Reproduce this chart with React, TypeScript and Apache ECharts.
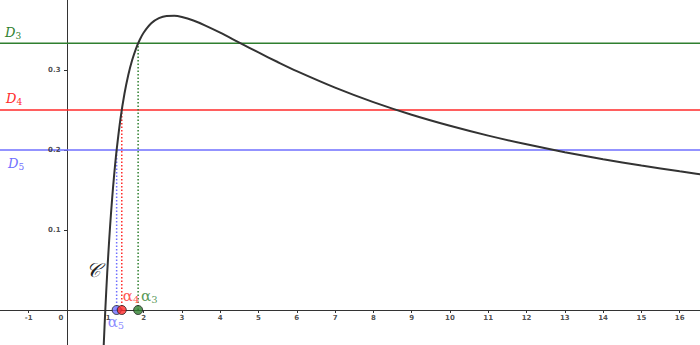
import React, { useEffect, useRef } from "react";
import * as echarts from "echarts";

// Curve C
const curveX = [0.93, 0.96, 1, 1.05, 1.1, 1.15, 1.2, 1.25, 1.3, 1.4, 1.5, 1.6, 1.7, 1.8, 1.9, 2, 2.2, 2.4, 2.6, 2.8, 3, 3.3, 3.6, 4, 4.5, 5, 5.5, 6, 7, 8, 9, 10, 11, 12, 13, 14, 15, 16, 17];
const curveY = [-0.078, -0.0425, 0, 0.0465, 0.0866, 0.1215, 0.152, 0.1785, 0.2018, 0.2403, 0.2703, 0.2938, 0.3121, 0.3265, 0.3378, 0.3466, 0.3584, 0.3648, 0.3675, 0.3677, 0.3662, 0.3618, 0.3558, 0.3466, 0.3342, 0.3219, 0.31, 0.2986, 0.278, 0.2599, 0.2441, 0.2303, 0.218, 0.2071, 0.1973, 0.1885, 0.1805, 0.1733, 0.1667];

// Horizontal lines D3, D4, D5
const lineNames = ["3", "4", "5"];
const lineLevels = [0.3333, 0.25, 0.2];
const lineColors = ["#2f7f2f", "#ff2a2a", "#6f6fff"];
// Intersection abscissas alpha3, alpha4, alpha5
const alphaX = [1.857, 1.43, 1.296];

const xTicks = [-1, 0, 1, 2, 3, 4, 5, 6, 7, 8, 9, 10, 11, 12, 13, 14, 15, 16];
const yTicks = [0.1, 0.2, 0.3];

const X_MIN = -1.75;
const X_MAX = 16.53;
const Y_MIN = -0.04375;
const Y_MAX = 0.3875;

export default function App() {
  const ref = useRef<HTMLDivElement>(null);
  useEffect(() => {
    if (!ref.current) return;
    const chart = echarts.init(ref.current, null, { renderer: "svg" });
    const serif = "DejaVu Serif";
    const tickFont = { fontSize: 7, color: "#222", fontFamily: "DejaVu Sans", fontWeight: "bold" as const };
    const series: any[] = [];
    lineLevels.forEach((lv, i) => {
      series.push({
        type: "line",
        data: [[X_MIN - 1, lv], [X_MAX + 1, lv]],
        symbol: "none",
        lineStyle: { color: lineColors[i], width: 1.5 },
        silent: true,
        z: 2,
      });
      series.push({
        type: "line",
        data: [[alphaX[i], 0], [alphaX[i], lv]],
        symbol: "none",
        lineStyle: { color: lineColors[i], width: 1.5, type: [1.5, 2] },
        silent: true,
        z: 3,
      });
    });
    series.push({
      type: "line",
      data: curveX.map((x, i) => [x, curveY[i]]),
      symbol: "none",
      smooth: 0.3,
      lineStyle: { color: "#333333", width: 2 },
      silent: true,
      z: 4,
    });
    // tick labels via scatter labels
    series.push({
      type: "scatter",
      data: xTicks.map((v) => ({
        value: [v, 0],
        label: v === 0 ? { offset: [-6, 0] } : v === 1 ? { offset: [3, 0] } : undefined,
      })),
      symbolSize: 1,
      itemStyle: { color: "transparent" },
      label: { show: true, position: "bottom", distance: 4, formatter: (p: any) => String(p.value[0]), ...tickFont },
      silent: true,
      z: 5,
    });
    series.push({
      type: "scatter",
      data: yTicks.map((v) => [0, v]),
      symbolSize: 1,
      itemStyle: { color: "transparent" },
      label: { show: true, position: "left", distance: 6, formatter: (p: any) => String(p.value[1]), ...tickFont },
      silent: true,
      z: 5,
    });
    const labelPos: any[] = [[8, -17], [6, -17], [-4, 9]];
    alphaX.forEach((ax, i) => {
      series.push({
        type: "scatter",
        data: [[ax, 0]],
        symbolSize: 9,
        itemStyle: { color: lineColors[i], borderColor: "#222", borderWidth: 1 },
        label: {
          show: true,
          position: labelPos[i],
          formatter: "{a|α}{s|" + lineNames[i] + "}",
          rich: {
            a: { fontFamily: serif, fontSize: 15, color: lineColors[i] },
            s: { fontFamily: serif, fontSize: 10, color: lineColors[i], padding: [6, 0, 0, 0] },
          },
        },
        silent: true,
        z: 6 + (i === 1 ? 1 : 0),
      });
    });

    const dText = (i: number, x: number, y: number) => ({
      type: "text",
      x,
      y,
      style: {
        text: "{d|D}{s|" + lineNames[i] + "}",
        rich: {
          d: { fontFamily: serif, fontStyle: "italic", fontSize: 13, fill: lineColors[i], color: lineColors[i] },
          s: { fontFamily: serif, fontSize: 9, fill: lineColors[i], color: lineColors[i], padding: [7, 0, 0, 0] },
        },
      },
    });

    chart.setOption({
      animation: false,
      grid: { left: 0, right: 0, top: 0, bottom: 0, containLabel: false, outerBoundsMode: "none" },
      xAxis: {
        type: "value",
        min: X_MIN,
        max: X_MAX,
        axisLine: { onZero: true, lineStyle: { color: "#333", width: 1 } },
        axisTick: { show: true, customValues: xTicks, length: 3, inside: false, lineStyle: { color: "#333" } },
        axisLabel: { show: false },
        splitLine: { show: false },
      },
      yAxis: {
        type: "value",
        min: Y_MIN,
        max: Y_MAX,
        axisLine: { onZero: true, lineStyle: { color: "#333", width: 1 } },
        axisTick: { show: true, customValues: yTicks, length: 3, lineStyle: { color: "#333" } },
        axisLabel: { show: false },
        splitLine: { show: false },
      },
      graphic: [
        dText(0, 5, 24),
        dText(1, 6, 90),
        dText(2, 8, 155),
        {
          type: "text",
          x: 86,
          y: 260,
          style: { text: "𝒞", font: "italic 20px 'DejaVu Serif'", fill: "#222" },
        },
      ],
      series,
    });
    return () => chart.dispose();
  }, []);
  return <div ref={ref} style={{ position: "fixed", left: 0, top: 0, width: 700, height: 345, background: "#fff" }} />;
}
